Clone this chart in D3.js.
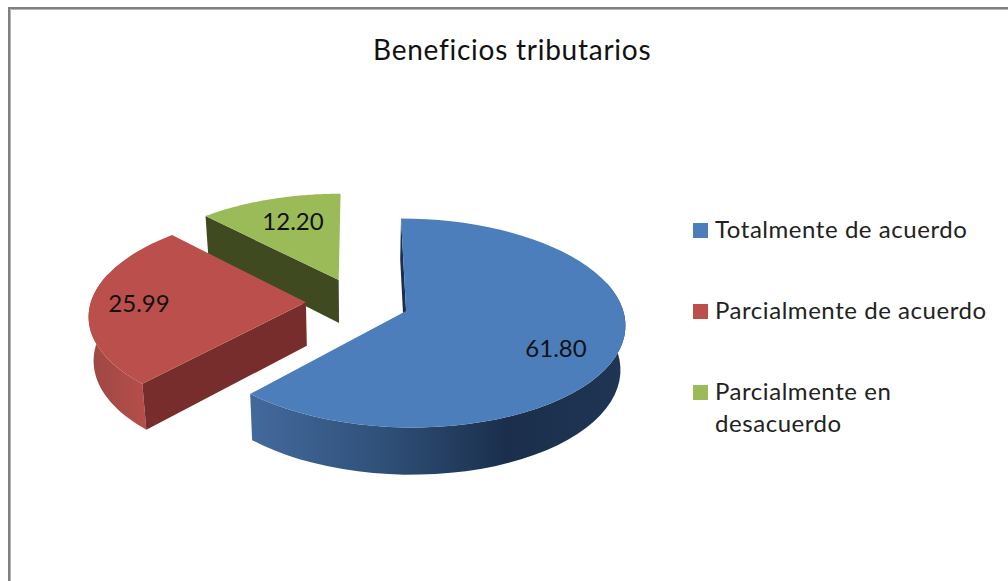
<!DOCTYPE html>
<html>
<head>
<meta charset="utf-8">
<script src="https://cdn.jsdelivr.net/npm/d3@7"></script>
<style>
html, body { margin: 0; padding: 0; background: #fff; }
svg { display: block; }
text { font-family: Lato, "Open Sans", sans-serif; }
</style>
</head>
<body>
<div id="chart"></div>
<script>
// chart values
var chart_title = "Beneficios tributarios";
var categories = ["Totalmente de acuerdo", "Parcialmente de acuerdo", "Parcialmente en desacuerdo"];
var values = [61.80, 25.99, 12.20];
var value_labels = ["61.80", "25.99", "12.20"];
var top_colors = ["#4c7ebb", "#bb4f4c", "#9bbb59"];
var wall_colors = ["#1b2f4c", "#772d2b", "#3f4a20"];
var legend_lines = [["Totalmente de acuerdo"], ["Parcialmente de acuerdo"], ["Parcialmente en", "desacuerdo"]];

var width = 1008, height = 581;
var explode = 0.24, persp = 0.115;

var svg = d3.select("#chart").append("svg")
    .attr("width", width)
    .attr("height", height);

// frame, only left and top are in the picture
svg.append("path").attr("d", "M9,581V8H1008").attr("fill", "none")
    .attr("stroke", "#808080").attr("stroke-width", 2);
svg.append("path").attr("d", "M10.5,581V9.5H1008").attr("fill", "none")
    .attr("stroke", "#b4b4b4").attr("stroke-width", 1);

svg.append("text").attr("x", 373).attr("y", 60)
    .attr("font-size", 28).attr("fill", "#111")
    .attr("letter-spacing", 0.75)
    .text(chart_title);

// pie plane -> screen, top and bottom level of the extruded disc
var x_top = d3.scaleLinear().domain([0, 1]).range([357.5, 357.5 + 215]);
var y_top = d3.scaleLinear().domain([0, 1]).range([302, 302 + 101]);
var x_bot = d3.scaleLinear().domain([0, 1]).range([357.5, 357.5 + 211]);
var y_bot = d3.scaleLinear().domain([0, 1]).range([345.5, 345.5 + 104]);

function project(u, v, bottom) {
    var w = 1 - persp * v;
    return bottom ? [x_bot(u / w), y_bot(v / w)] : [x_top(u / w), y_top(v / w)];
}

var pie = d3.pie().sort(null).value(function (d) { return d; });
var slices = pie(values);
var line = d3.line();

function center_of(s) {
    var mid = (s.startAngle + s.endAngle) / 2;
    return [explode * Math.sin(mid), -explode * Math.cos(mid)];
}

function rim_angles(s) {
    return d3.range(0, 61).map(function (i) {
        return s.startAngle + (s.endAngle - s.startAngle) * i / 60;
    });
}

function rim(angles, c, bottom) {
    return angles.map(function (a) {
        return project(c[0] + Math.sin(a), c[1] - Math.cos(a), bottom);
    });
}

function edge_wall(s, c, angle) {
    var u = c[0] + Math.sin(angle), v = c[1] - Math.cos(angle);
    return [project(u, v), project(c[0], c[1]), project(c[0], c[1], true), project(u, v, true)];
}

var defs = svg.append("defs");
var g_blue = defs.append("linearGradient").attr("id", "wall0")
    .attr("gradientUnits", "userSpaceOnUse")
    .attr("x1", 253).attr("x2", 625).attr("y1", 0).attr("y2", 0);
[[0, "#43699c"], [0.35, "#2f5079"], [0.68, "#1b2f4c"], [1, "#1f3553"]].forEach(function (d) {
    g_blue.append("stop").attr("offset", d[0]).attr("stop-color", d[1]);
});
var g_red = defs.append("linearGradient").attr("id", "wall1")
    .attr("gradientUnits", "userSpaceOnUse")
    .attr("x1", 90).attr("x2", 145).attr("y1", 0).attr("y2", 0);
[[0, "#9e4744"], [1, "#b54e4a"]].forEach(function (d) {
    g_red.append("stop").attr("offset", d[0]).attr("stop-color", d[1]);
});

// back to front: green, red, blue
[2, 1, 0].forEach(function (i) {
    var s = slices[i], c = center_of(s);
    var g = svg.append("g");
    var angles = rim_angles(s);
    // outer wall only on the part of the rim that faces the viewer
    var front = angles.filter(function (a) { return -Math.cos(a) > -0.3; });
    if (front.length > 1) {
        g.append("path")
            .attr("d", line(rim(front, c, false).concat(rim(front, c, true).reverse())) + "Z")
            .attr("fill", "url(#wall" + i + ")");
    }
    // only the wall at the start angle faces the viewer
    g.append("path")
        .attr("d", line(edge_wall(s, c, s.startAngle)) + "Z")
        .attr("fill", wall_colors[i]);
    g.append("path")
        .attr("d", line([project(c[0], c[1])].concat(rim(angles, c, false))) + "Z")
        .attr("fill", top_colors[i]);
});

var label_pos = [[556, 349], [139, 304], [293, 222]];
value_labels.forEach(function (t, i) {
    svg.append("text")
        .attr("x", label_pos[i][0]).attr("y", label_pos[i][1] + 8)
        .attr("text-anchor", "middle")
        .attr("font-size", 24).attr("fill", "#111")
        .text(t);
});

// legend
var legend_y = [238, 319, 400];
categories.forEach(function (cat, i) {
    svg.append("rect")
        .attr("x", 693).attr("y", legend_y[i] - 15)
        .attr("width", 15).attr("height", 15)
        .attr("fill", top_colors[i]);
    legend_lines[i].forEach(function (t, j) {
        svg.append("text")
            .attr("x", 715).attr("y", legend_y[i] + j * 32)
            .attr("font-size", 24).attr("fill", "#222")
            .attr("letter-spacing", 0.55)
            .text(t);
    });
});
</script>
</body>
</html>
